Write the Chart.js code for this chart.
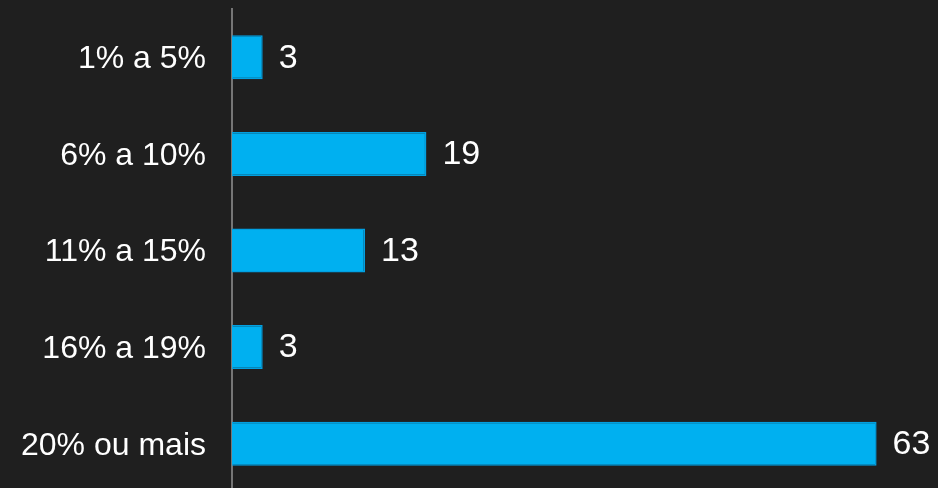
<!DOCTYPE html>
<html>
<head>
<meta charset="utf-8">
<script src="https://cdn.jsdelivr.net/npm/chart.js@4"></script>
<style>
  html, body { margin: 0; padding: 0; background: #1f1f1f; overflow: hidden; }
  #wrap { width: 938px; height: 488px; overflow: hidden; }
  #box { position: relative; width: 938px; height: 492px; }
</style>
</head>
<body>
<div id="wrap">
  <div id="box"><canvas id="myChart"></canvas></div>
</div>
<script>
// faixas de percentual e numero de respostas
const categories = ["1% a 5%", "6% a 10%", "11% a 15%", "16% a 19%", "20% ou mais"];
const counts = [3, 19, 13, 3, 63];

const FONT = "'Liberation Sans', Arial, sans-serif";

// draws the value to the right of each bar
const valueLabels = {
  id: "valueLabels",
  afterDatasetsDraw(chart) {
    const ctx = chart.ctx;
    const meta = chart.getDatasetMeta(0);
    ctx.save();
    ctx.fillStyle = "#ffffff";
    ctx.font = "34px " + FONT;
    ctx.textAlign = "left";
    ctx.textBaseline = "middle";
    meta.data.forEach((bar, i) => {
      ctx.fillText(String(counts[i]), bar.x + 16, bar.y + 1);
    });
    ctx.restore();
  }
};

const myChartRef = document.getElementById("myChart").getContext("2d");

new Chart(myChartRef, {
  type: "bar",
  data: {
    labels: categories,
    datasets: [
      {
        label: "Respostas",
        data: counts,
        backgroundColor: "#00b0f0",
        borderColor: "#00a0e2",
        borderWidth: 1.5,
        categoryPercentage: 1,
        barPercentage: 0.455
      }
    ]
  },
  options: {
    indexAxis: "y",
    responsive: true,
    maintainAspectRatio: false,
    animation: false,
    devicePixelRatio: 1,
    layout: { padding: { top: 9, right: 0, bottom: 0, left: 0 } },
    plugins: {
      legend: { display: false },
      tooltip: { enabled: false }
    },
    scales: {
      x: {
        display: false,
        min: 0,
        max: 69
      },
      y: {
        afterFit(scale) {
          scale.width = 232;
          scale.paddingTop = 0;
          scale.paddingBottom = 0;
        },
        grid: { display: false, drawTicks: false },
        border: { display: true, color: "#767676", width: 2 },
        ticks: {
          color: "#ffffff",
          padding: 26,
          labelOffset: 2,
          font: { family: FONT, size: 32 }
        }
      }
    }
  },
  plugins: [valueLabels]
});
</script>
</body>
</html>
